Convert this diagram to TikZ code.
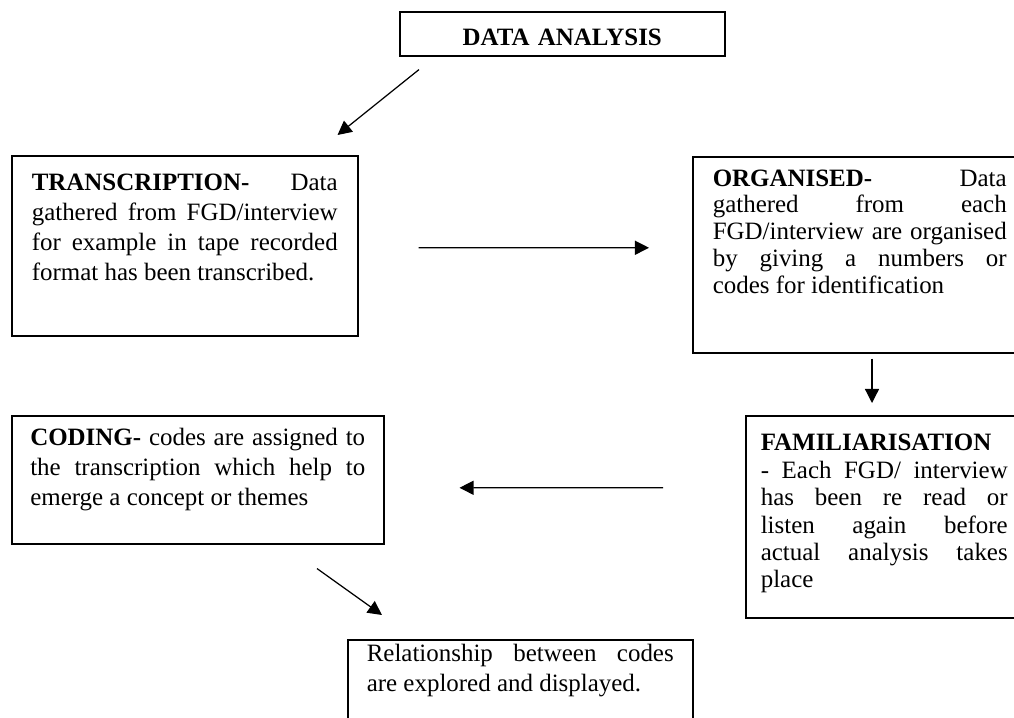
\documentclass[tikz,border=0pt]{standalone}
\usepackage{fontspec}
\setmainfont{Liberation Serif}
\usetikzlibrary{arrows.meta}
\hyphenpenalty=10000
\exhyphenpenalty=10000
\newcommand{\boxfont}[1]{\fontsize{14.2pt}{#1}\selectfont}
\tikzset{
  stage/.style={draw, line width=0.9pt, anchor=north west, align=justify,
    inner xsep=0.4cm, inner ysep=0pt},
  flow/.style={line width=0.7pt, -{Triangle[length=8pt, width=8pt]}}
}

\begin{document}
\begin{tikzpicture}[x=0.02cm, y=-0.02cm]
        \path[use as bounding box, clip] (0,0) rectangle (1014,717);

        \node[stage, align=center, text width=6.5cm, inner xsep=0pt, text height=0.68cm, text depth=0.2cm, font=\boxfont{16.5pt}] (da) at (399,11) {\textbf{DATA ANALYSIS}};

        \node[stage, text width=6.12cm, text height=0.69cm, text depth=2.91cm, font=\boxfont{17.2pt}] (tr) at (11,155)
          {\textbf{TRANSCRIPTION-} Data\linebreak gathered from FGD/interview\linebreak for example in tape recorded\linebreak format has been transcribed.};

        \node[stage, text width=5.88cm, text height=0.59cm, text depth=3.33cm, font=\boxfont{15.2pt}] (or) at (692,156)
          {\textbf{ORGANISED-} Data\linebreak gathered from each\linebreak FGD/interview are organised\linebreak by giving a numbers or\linebreak codes for identification};

        \node[stage, text width=4.94cm, inner xsep=0.3cm, text height=0.7cm, text depth=3.34cm, font=\boxfont{15.6pt}] (fa) at (745,415)
          {\textbf{FAMILIARISATION}\\ - Each FGD/ interview\linebreak has been re read or\linebreak listen again before\linebreak actual analysis takes\linebreak place};

        \node[stage, text width=6.7cm, inner xsep=0.37cm, text height=0.6cm, text depth=1.96cm, font=\boxfont{17.1pt}] (co) at (11,415)
          {\textbf{CODING-} codes are assigned to\linebreak the transcription which help to\linebreak emerge a concept or themes};

        \node[stage, text width=6.14cm, inner xsep=0.38cm, text height=0.44cm, text depth=2cm, font=\boxfont{17.1pt}] (re) at (347,639)
          {Relationship between codes\linebreak are explored and displayed.};

        \draw[flow] ([shift={(20,13)}]da.south west) -- ([shift={(-21,-20)}]tr.north east);
        \draw[flow] ([shift={(60,2)}]tr.east) -- ([shift={(-43,-7)}]or.west);
        \draw[flow] ([shift={(180,5)}]or.south west) -- ([shift={(127,-12)}]fa.north west);
        \draw[flow] ([shift={(-82,-29)}]fa.west) -- ([shift={(75,8)}]co.east);
        \draw[flow] ([shift={(306,24)}]co.south west) -- ([shift={(35,-24)}]re.north west);
      \end{tikzpicture}
\end{document}
